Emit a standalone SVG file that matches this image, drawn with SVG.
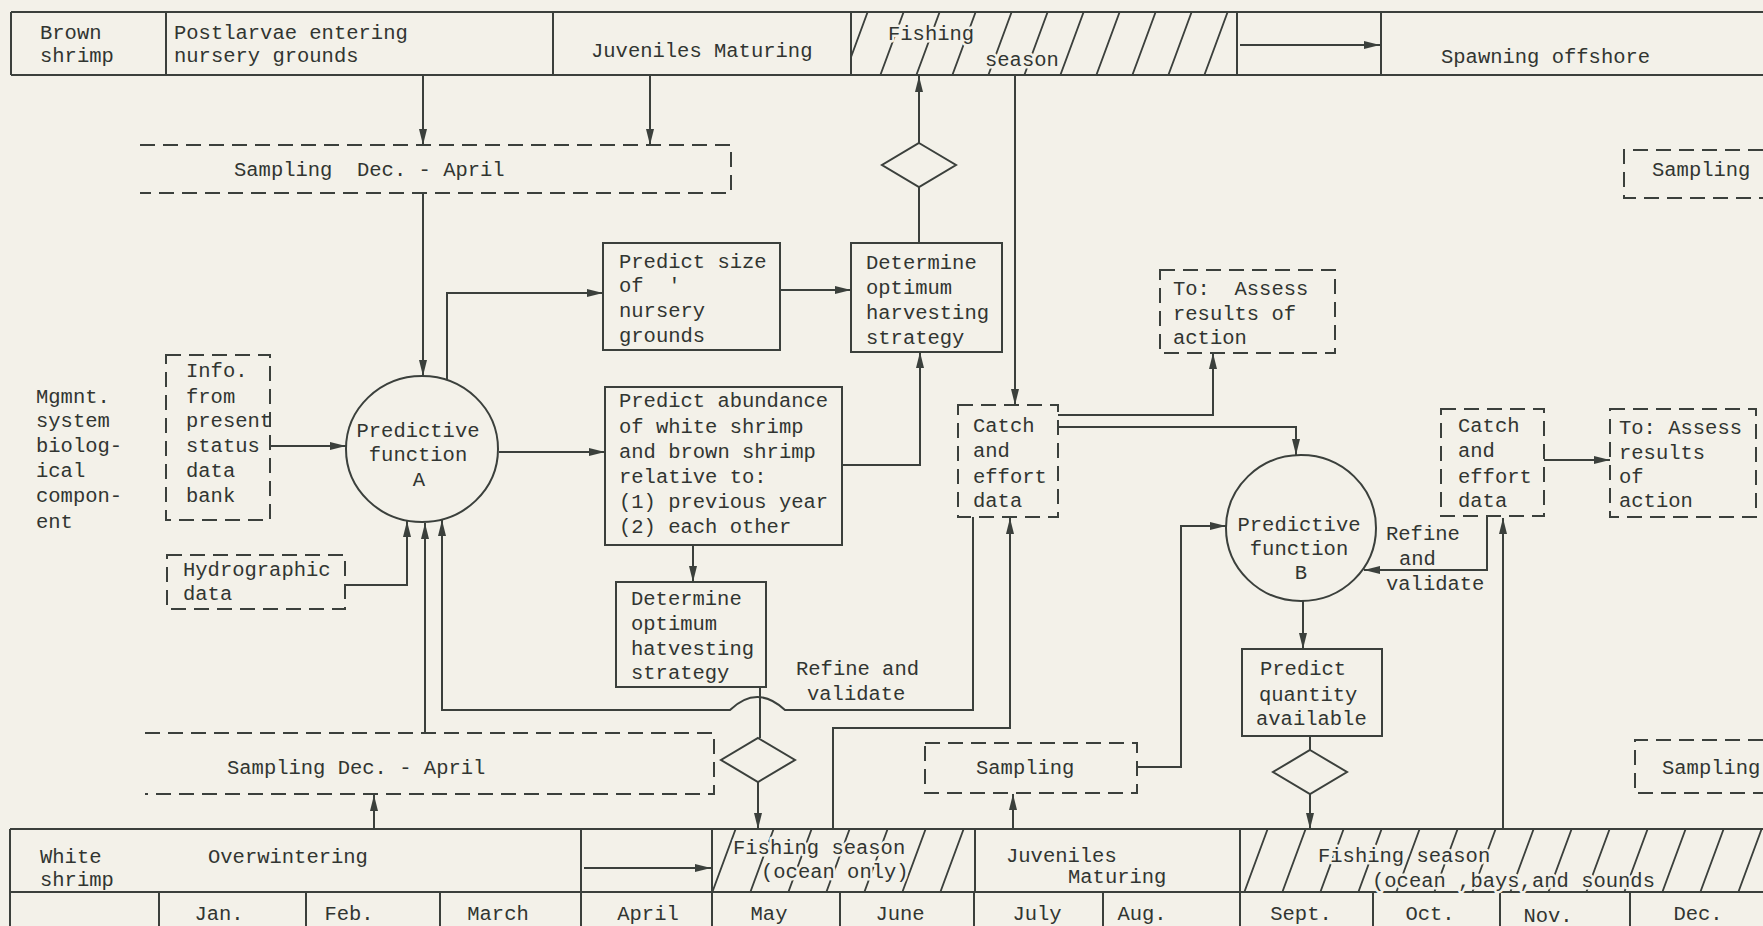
<svg xmlns="http://www.w3.org/2000/svg" width="1763" height="926" viewBox="0 0 1763 926">
<defs>
<style>
.bg{fill:#f3f1e9}
.ln{fill:none;stroke:#3b403c;stroke-width:2}
.bx{fill:none;stroke:#3b403c;stroke-width:2}
.dz{fill:none;stroke:#3b403c;stroke-width:2;stroke-dasharray:15 8}
.cn{fill:none;stroke:#3b403c;stroke-width:2;marker-end:url(#ah)}
.cp{fill:none;stroke:#3b403c;stroke-width:2}
.hl{fill:none;stroke:#3b403c;stroke-width:1.8}
text{font-family:"Liberation Mono","DejaVu Sans Mono",monospace;font-size:20.5px;fill:#313531;white-space:pre}
.ht{stroke:#f3f1e9;stroke-width:5;paint-order:stroke;stroke-linejoin:round}
.mid{text-anchor:middle}
</style>
<marker id="ah" markerWidth="16" markerHeight="10" refX="16" refY="5" orient="auto" markerUnits="userSpaceOnUse">
<path d="M0,1 L16,5 L0,9 z" fill="#3b403c"/>
</marker>
<pattern id="hatchTop" patternUnits="userSpaceOnUse" x="851" y="12" width="36" height="63">
<path d="M-7,64 L17,-1 M29,64 L53,-1" class="hl"/>
</pattern>
<pattern id="hatchBot" patternUnits="userSpaceOnUse" x="716" y="829" width="38" height="63">
<path d="M-4,64 L20,-1 M34,64 L58,-1" class="hl"/>
</pattern>
</defs>
<rect class="bg" x="0" y="0" width="1763" height="926"/>

<g id="band-brown">
<rect x="851" y="12" width="386" height="63" fill="url(#hatchTop)"/>
<path class="ln" d="M11,12 H1763 M11,75 H1763 M11,12 V75 M166,12 V75 M553,12 V75 M851,12 V75 M1237,12 V75 M1381,12 V75"/>
<text x="40" y="39">Brown</text>
<text x="40" y="62">shrimp</text>
<text x="174" y="39">Postlarvae entering</text>
<text x="174" y="62">nursery grounds</text>
<text x="591" y="57">Juveniles Maturing</text>
<text class="ht" x="888" y="40">Fishing</text>
<text class="ht" x="985" y="66">season</text>
<text x="1441" y="63">Spawning offshore</text>
</g>

<g id="band-white">
<rect x="712" y="829" width="263" height="63" fill="url(#hatchBot)"/>
<rect x="1240" y="829" width="523" height="63" fill="url(#hatchBot)"/>
<path class="ln" d="M10,829 H1763 M10,892 H1763 M10,829 V926 M581,829 V892 M712,829 V892 M975,829 V892 M1240,829 V892 M159,892 V926 M306,892 V926 M440,892 V926 M581,892 V926 M712,892 V926 M840,892 V926 M974,892 V926 M1103,892 V926 M1240,892 V926 M1373,892 V926 M1500,892 V926 M1630,892 V926"/>
<text x="40" y="863">White</text>
<text x="40" y="886">shrimp</text>
<text x="208" y="863">Overwintering</text>
<text class="ht" x="733" y="854">Fishing season</text>
<text class="ht" x="761" y="878">(ocean only)</text>
<text x="1006" y="862">Juveniles</text>
<text x="1068" y="883">Maturing</text>
<text class="ht" x="1318" y="862">Fishing season</text>
<text class="ht" x="1372" y="887">(ocean ,bays,and sounds</text>
<text class="mid" x="219" y="920">Jan.</text>
<text class="mid" x="349" y="920">Feb.</text>
<text class="mid" x="498" y="920">March</text>
<text class="mid" x="648" y="920">April</text>
<text class="mid" x="769" y="920">May</text>
<text class="mid" x="900" y="920">June</text>
<text class="mid" x="1037" y="920">July</text>
<text class="mid" x="1142" y="920">Aug.</text>
<text class="mid" x="1301" y="920">Sept.</text>
<text class="mid" x="1430" y="920">Oct.</text>
<text class="mid" x="1548" y="922">Nov.</text>
<text class="mid" x="1698" y="920">Dec.</text>
</g>

<g id="label-mgmnt">
<text x="36" y="403">Mgmnt.</text>
<text x="36" y="427">system</text>
<text x="36" y="452">biolog-</text>
<text x="36" y="477">ical</text>
<text x="36" y="502">compon-</text>
<text x="36" y="528">ent</text>
</g>

<g id="sampling-top">
<path class="dz" d="M140,145 H731 V193 H140"/>
<text x="234" y="176" xml:space="preserve">Sampling  Dec. - April</text>
</g>

<g id="sampling-right-top">
<path class="dz" d="M1763,150 H1624 V198 H1763"/>
<text x="1652" y="176">Sampling</text>
</g>

<g id="info">
<rect class="dz" x="166" y="355" width="104" height="165"/>
<text x="186" y="377">Info.</text>
<text x="186" y="403">from</text>
<text x="186" y="427">present</text>
<text x="186" y="452">status</text>
<text x="186" y="477">data</text>
<text x="186" y="502">bank</text>
</g>

<g id="hydro">
<rect class="dz" x="167" y="555" width="178" height="54"/>
<text x="183" y="576">Hydrographic</text>
<text x="183" y="600">data</text>
</g>

<g id="pred-a">
<ellipse class="bx" cx="422" cy="449" rx="76" ry="73"/>
<text class="mid" x="418" y="437">Predictive</text>
<text class="mid" x="418" y="461">function</text>
<text class="mid" x="419" y="486">A</text>
</g>

<g id="predict-size">
<rect class="bx" x="603" y="243" width="177" height="107"/>
<text x="619" y="268">Predict size</text>
<text x="619" y="292" xml:space="preserve">of  '</text>
<text x="619" y="317">nursery</text>
<text x="619" y="342">grounds</text>
</g>

<g id="determine-top">
<rect class="bx" x="851" y="243" width="151" height="109"/>
<text x="866" y="269">Determine</text>
<text x="866" y="294">optimum</text>
<text x="866" y="319">harvesting</text>
<text x="866" y="344">strategy</text>
</g>

<g id="diamond-top">
<path class="bx" d="M919,143 L956,165 L919,187 L882,165 Z"/>
</g>

<g id="predict-abundance">
<rect class="bx" x="605" y="387" width="237" height="158"/>
<text x="619" y="407">Predict abundance</text>
<text x="619" y="433">of white shrimp</text>
<text x="619" y="458">and brown shrimp</text>
<text x="619" y="483">relative to:</text>
<text x="619" y="508">(1) previous year</text>
<text x="619" y="533">(2) each other</text>
</g>

<g id="determine-low">
<rect class="bx" x="616" y="582" width="150" height="105"/>
<text x="631" y="605">Determine</text>
<text x="631" y="630">optimum</text>
<text x="631" y="655">hatvesting</text>
<text x="631" y="679">strategy</text>
</g>

<g id="diamond-low-left">
<path class="bx" d="M758,738 L795,760 L758,782 L721,760 Z"/>
</g>

<g id="label-refine-a">
<text x="796" y="675">Refine and</text>
<text x="807" y="700">validate</text>
</g>

<g id="sampling-bottom">
<path class="dz" d="M145,733 H714 V794 H145"/>
<text x="227" y="774">Sampling Dec. - April</text>
</g>

<g id="catch-1">
<rect class="dz" x="958" y="405" width="100" height="112"/>
<text x="973" y="432">Catch</text>
<text x="973" y="457">and</text>
<text x="973" y="483">effort</text>
<text x="973" y="507">data</text>
</g>

<g id="assess-1">
<rect class="dz" x="1160" y="270" width="175" height="83"/>
<text x="1173" y="295" xml:space="preserve">To:  Assess</text>
<text x="1173" y="320">results of</text>
<text x="1173" y="344">action</text>
</g>

<g id="pred-b">
<ellipse class="bx" cx="1301" cy="528" rx="75" ry="73"/>
<text class="mid" x="1299" y="531">Predictive</text>
<text class="mid" x="1299" y="555">function</text>
<text class="mid" x="1301" y="579">B</text>
</g>

<g id="label-refine-b">
<text x="1386" y="540">Refine</text>
<text x="1399" y="565">and</text>
<text x="1386" y="590">validate</text>
</g>

<g id="predict-quantity">
<rect class="bx" x="1242" y="649" width="140" height="87"/>
<text x="1260" y="675">Predict</text>
<text x="1259" y="701">quantity</text>
<text x="1256" y="725">available</text>
</g>

<g id="diamond-low-right">
<path class="bx" d="M1310,750 L1347,772 L1310,794 L1273,772 Z"/>
</g>

<g id="catch-2">
<rect class="dz" x="1441" y="409" width="103" height="107"/>
<text x="1458" y="432">Catch</text>
<text x="1458" y="457">and</text>
<text x="1458" y="483">effort</text>
<text x="1458" y="507">data</text>
</g>

<g id="assess-2">
<rect class="dz" x="1610" y="409" width="146" height="108"/>
<text x="1619" y="434">To: Assess</text>
<text x="1619" y="459">results</text>
<text x="1619" y="483">of</text>
<text x="1619" y="507">action</text>
</g>

<g id="sampling-middle">
<rect class="dz" x="925" y="743" width="212" height="50"/>
<text x="976" y="774">Sampling</text>
</g>

<g id="sampling-right-bottom">
<path class="dz" d="M1763,740 H1635 V793 H1763"/>
<text x="1662" y="774">Sampling</text>
</g>

<g id="connectors">
<path class="cn" d="M423,75 V145"/>
<path class="cn" d="M650,75 V145"/>
<path class="cn" d="M423,193 V376"/>
<path class="cn" d="M447,380 V293 H603"/>
<path class="cn" d="M780,290 H851"/>
<path class="cp" d="M919,243 V187"/>
<path class="cn" d="M919,143 V76"/>
<path class="cn" d="M842,465 H920 V352"/>
<path class="cn" d="M1015,75 V405"/>
<path class="cn" d="M271,446 H346"/>
<path class="cn" d="M499,452 H605"/>
<path class="cn" d="M345,585 H407 V521"/>
<path class="cn" d="M425,733 V523"/>
<path class="cn" d="M973,517 V710 H785 Q757,684 730,710 H442 V520"/>
<path class="cn" d="M693,545 V582"/>
<path class="cp" d="M760,687 V738"/>
<path class="cn" d="M758,782 V829"/>
<path class="cn" d="M833,829 V728 H1010 V518"/>
<path class="cn" d="M1058,415 H1213 V353"/>
<path class="cn" d="M1058,427 H1296 V455"/>
<path class="cn" d="M1137,767 H1181 V526 H1226"/>
<path class="cn" d="M1303,601 V649"/>
<path class="cp" d="M1310,736 V750"/>
<path class="cn" d="M1310,794 V829"/>
<path class="cn" d="M1487,516 V570 H1364"/>
<path class="cn" d="M1503,829 V518"/>
<path class="cn" d="M1544,460 H1610"/>
<path class="cn" d="M1013,829 V794"/>
<path class="cn" d="M374,829 V795"/>
<path class="cn" d="M1240,45 H1380"/>
<path class="cn" d="M584,868 H711"/>
</g>
</svg>
